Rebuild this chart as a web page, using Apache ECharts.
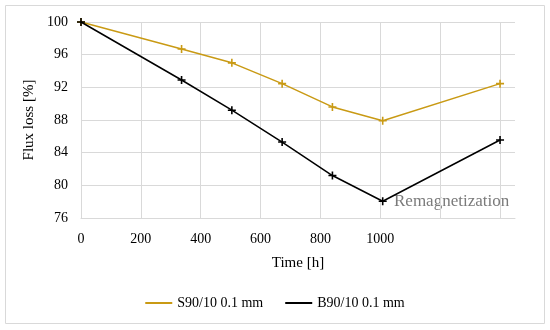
<!DOCTYPE html>
<html><head><meta charset="utf-8">
<script src="https://cdn.jsdelivr.net/npm/echarts@6/dist/echarts.min.js"></script>
<style>html,body{margin:0;padding:0;background:#fff}#c{width:550px;height:330px}</style>
</head><body><div id="c"></div>
<script>
const times = [0, 336, 504, 672, 840, 1008, 1400];
const s90 = [100, 96.7, 95.0, 92.45, 89.6, 87.9, 92.45];
const b90 = [100, 92.9, 89.2, 85.3, 81.2, 78.05, 85.55];
const seriesNames = ['S90/10 0.1 mm', 'B90/10 0.1 mm'];
const xGridValues = [0, 200, 400, 600, 800, 1000, 1200, 1400];
const xLabelsShown = [0, 200, 400, 600, 800, 1000];
const note = 'Remagnetization';

const font = '"Liberation Serif", "DejaVu Serif", serif';
const plus = 'path://M4,0 L6,0 L6,4 L10,4 L10,6 L6,6 L6,10 L4,10 L4,6 L0,6 L0,4 L4,4 Z';
const chart = echarts.init(document.getElementById('c'), null, {renderer: 'canvas'});
const pair = arr => times.map((t, i) => [t, arr[i]]);
chart.setOption({
  animation: false,
  textStyle: {fontFamily: font},
  graphic: [
    {type: 'rect', z: -1, shape: {x: 5.5, y: 5.5, width: 539, height: 318}, style: {fill: 'none', stroke: '#d9d9d9', lineWidth: 1}},
    {type: 'text', z: -1, left: 394, top: 193, style: {text: note, font: '17px ' + font, fill: '#7a7a7a'}}
  ],
  grid: {left: 81, right: 35, top: 22, bottom: 112},
  legend: {
    bottom: 15, left: 'center', itemWidth: 27, itemHeight: 2, itemGap: 22,
    icon: 'rect',
    textStyle: {fontFamily: font, fontSize: 14, color: '#000'},
    data: seriesNames
  },
  xAxis: {
    type: 'value', min: 0, max: 1450, interval: 200,
    name: 'Time [h]', nameLocation: 'middle', nameGap: 38,
    nameTextStyle: {fontFamily: font, fontSize: 15, color: '#000'},
    axisLine: {show: true, lineStyle: {color: '#d9d9d9', width: 1}},
    axisTick: {show: false},
    splitLine: {show: false},
    axisLabel: {
      fontFamily: font, fontSize: 14, color: '#000', margin: 14,
      showMaxLabel: false,
      formatter: v => xLabelsShown.indexOf(v) >= 0 ? String(v) : ''
    }
  },
  yAxis: {
    type: 'value', min: 76, max: 100, interval: 4,
    name: 'Flux loss [%]', nameLocation: 'middle', nameGap: 42, nameRotate: 90,
    nameTextStyle: {fontFamily: font, fontSize: 15, color: '#000'},
    axisLine: {show: false}, axisTick: {show: false},
    splitLine: {show: true, lineStyle: {color: '#d9d9d9', width: 1}},
    axisLabel: {fontFamily: font, fontSize: 14, color: '#000', margin: 13}
  },
  series: [
    {name: seriesNames[0], type: 'line', data: pair(s90), symbol: plus, symbolSize: 8,
     lineStyle: {color: '#C99A14', width: 1.5}, itemStyle: {color: '#C99A14'}, z: 3,
     markLine: {
       silent: true, symbol: 'none', label: {show: false}, z: 1,
       lineStyle: {color: '#d9d9d9', width: 1, type: 'solid'},
       emphasis: {disabled: true},
       data: xGridValues.map(v => ({xAxis: v}))
     }},
    {name: seriesNames[1], type: 'line', data: pair(b90), symbol: plus, symbolSize: 8,
     lineStyle: {color: '#000', width: 1.5}, itemStyle: {color: '#000'}, z: 4}
  ]
});
</script></body></html>
